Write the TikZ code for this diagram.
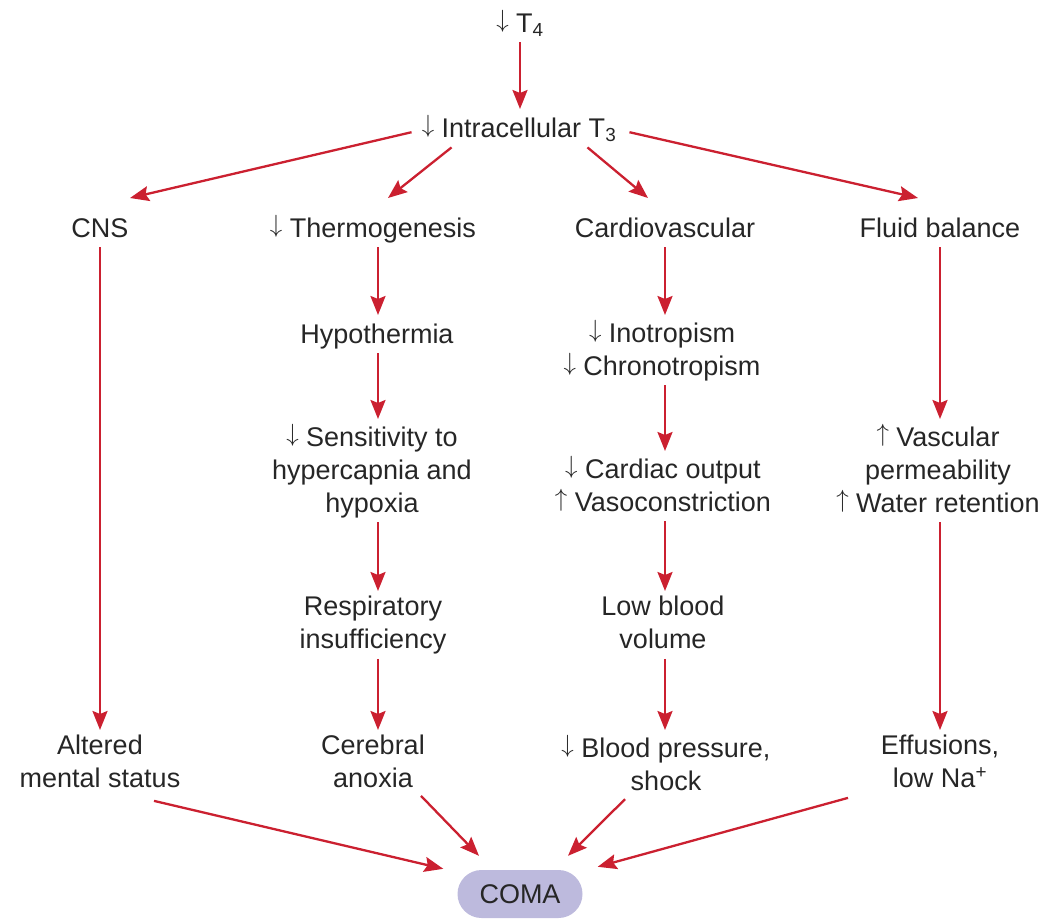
\documentclass[tikz,border=0pt]{standalone}
\usepackage{fontspec}
\setmainfont{Liberation Sans}
\usetikzlibrary{arrows.meta}
\definecolor{arrred}{HTML}{CB2030}
\definecolor{txtgray}{HTML}{262626}
\definecolor{comafill}{HTML}{BDBADD}
\newcommand\dnarr{\raisebox{0.17em}{$\downarrow$}}
\newcommand\uparr{\raisebox{0.17em}{$\uparrow$}}
\begin{document}
\begin{tikzpicture}[x=1pt,y=-1pt,
  lbl/.style={align=center,inner sep=0pt,anchor=north,
    font=\fontsize{27}{33}\selectfont,text=txtgray,
    execute at begin node=\strut,execute at end node=\strut},
  comabox/.style={draw=none,fill=comafill,rounded corners=24pt,
    minimum width=125pt,minimum height=48pt,inner sep=0pt,
    font=\fontsize{27}{33}\selectfont,text=txtgray},
  link/.style={draw=arrred,line width=2.3pt,
    -{Stealth[length=19pt,width=15pt,inset=3pt]}},
  vlink/.style={link,shorten <=0pt,shorten >=5pt}]
\useasboundingbox (0,0) rectangle (1046,921);

% nodes
\node[lbl] (t4) at (520,9) {\dnarr{} T\textsubscript{4}};
\node[lbl] (t3) at (519,114) {\dnarr{} Intracellular T\textsubscript{3}};
\node[lbl] (cns) at (100,214) {CNS};
\node[lbl] (thermo) at (373,214) {\dnarr{} Thermogenesis};
\node[lbl] (cardio) at (665,214) {Cardiovascular};
\node[lbl] (fluid) at (940,214) {Fluid balance};
\node[lbl] (hypo) at (377,320) {Hypothermia};
\node[lbl] (ino) at (662,320) {\dnarr{} Inotropism\\\dnarr{} Chronotropism};
\node[lbl] (sens) at (372,424) {\dnarr{} Sensitivity to\\hypercapnia and\\hypoxia};
\node[lbl] (co) at (663,456) {\dnarr{} Cardiac output\\\uparr{} Vasoconstriction};
\node[lbl] (vasc) at (938,424) {\uparr{} Vascular\\permeability\\\uparr{} Water retention};
\node[lbl] (resp) at (373,596) {Respiratory\\insufficiency};
\node[lbl] (lbv) at (663,596) {Low blood\\volume};
\node[lbl] (alt) at (100,735) {Altered\\mental status};
\node[lbl] (cereb) at (373,735) {Cerebral\\anoxia};
\node[lbl] (bp) at (666,735) {\dnarr{} Blood pressure,\\shock};
\node[lbl] (eff) at (940,735) {Effusions,\\low Na\textsuperscript{+}};
\node[comabox] (coma) at (520,894) {COMA};

% top
\draw[vlink] (t4.south) -- (t3.north -| t4.south);
\draw[link] ([shift={(-10,1.5)}]t3.west) -- ([shift={(30,-16)}]cns.north);
\draw[link] ([shift={(30,0)}]t3.south west) -- ([shift={(15,-16)}]thermo.north);
\draw[link] ([shift={(-29,0)}]t3.south east) -- ([shift={(-17,-16)}]cardio.north);
\draw[link] ([shift={(13,1.5)}]t3.east) -- ([shift={(-22,-16)}]fluid.north);

% CNS column
\draw[vlink] (cns.south) -- (alt.north -| cns.south);

% thermogenesis column (x = 378)
\coordinate (tcol) at ([xshift=5pt]thermo.south);
\draw[vlink] (tcol) -- (hypo.north -| tcol);
\draw[vlink] (hypo.south -| tcol) -- (sens.north -| tcol);
\draw[vlink] (sens.south -| tcol) -- (resp.north -| tcol);
\draw[vlink] (resp.south -| tcol) -- (cereb.north -| tcol);

% cardiovascular column
\draw[vlink] (cardio.south) -- (ino.north -| cardio.south);
\draw[vlink] (ino.south -| cardio.south) -- (co.north -| cardio.south);
\draw[vlink] (co.south -| cardio.south) -- (lbv.north -| cardio.south);
\draw[vlink] (lbv.south -| cardio.south) -- (bp.north -| cardio.south);

% fluid column
\draw[vlink] (fluid.south) -- (vasc.north -| fluid.south);
\draw[vlink] (vasc.south -| fluid.south) -- (eff.north -| fluid.south);

% to coma
\draw[link] ([shift={(54,3)}]alt.south) -- ([shift={(-14,-1)}]coma.north west);
\draw[link] ([shift={(48,-2)}]cereb.south) -- ([shift={(-41,-14)}]coma.north);
\draw[link] ([shift={(-41,-1)}]bp.south) -- ([shift={(48,-14)}]coma.north);
\draw[link] ([shift={(-92,0)}]eff.south) -- ([shift={(15,-3)}]coma.north east);
\end{tikzpicture}
\end{document}
